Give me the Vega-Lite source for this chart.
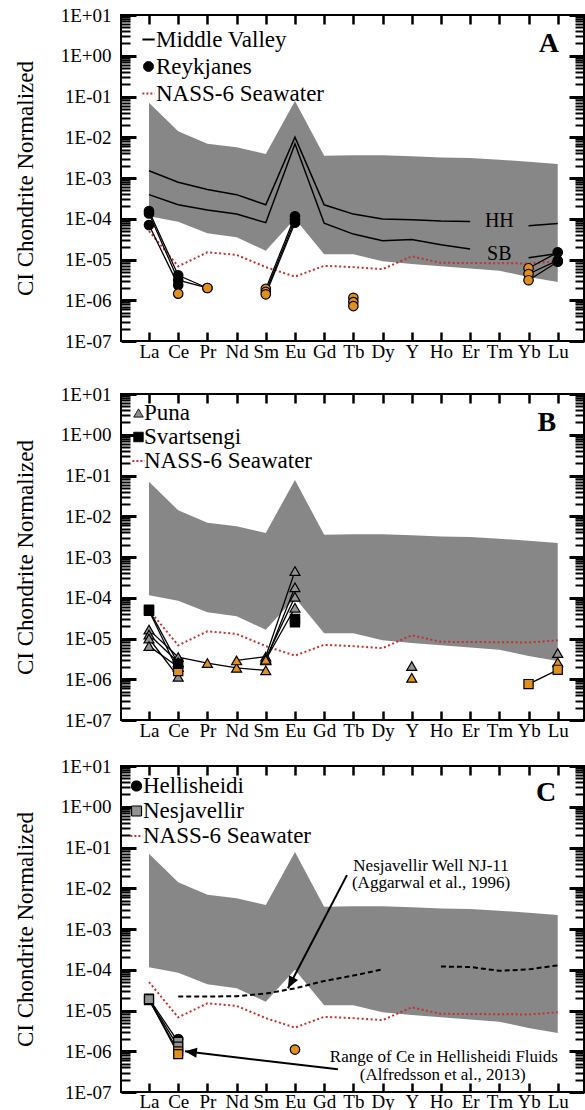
{
"$schema": "https://vega.github.io/schema/vega-lite/v6.json",
"padding": {"left": 13, "top": 5, "right": 0, "bottom": 0},
"background": "white",
"config": {
 "view": {"stroke": "black", "strokeWidth": 2},
 "font": "Liberation Serif",
 "axis": {"domain": false, "grid": false, "tickColor": "black", "labelColor": "black", "labelFont": "Liberation Serif", "labelFontSize": 19, "labelOverlap": false, "labelFlush": false, "titleFont": "Liberation Serif", "titleFontSize": 23, "titleFontWeight": "normal", "titleColor": "black"},
 "legend": {"labelFont": "Liberation Serif", "labelFontSize": 23, "labelColor": "black", "padding": 0, "symbolSize": 150, "labelLimit": 400}
},
"datasets": {
 "band": [
  {"el":"La","n":1,"v":0.07,"lo":1.15e-4},{"el":"Ce","n":2,"v":0.014,"lo":8.5e-5},{"el":"Pr","n":3,"v":0.0069,"lo":4.4e-5},{"el":"Nd","n":4,"v":0.0057,"lo":3.5e-5},{"el":"Sm","n":5,"v":0.0039,"lo":1.65e-5},{"el":"Eu","n":6,"v":0.078,"lo":1.0e-4},{"el":"Gd","n":7,"v":0.0035,"lo":1.35e-5},{"el":"Tb","n":8,"v":0.0036,"lo":1.35e-5},{"el":"Dy","n":9,"v":0.0036,"lo":9.0e-6},{"el":"Y","n":10,"v":0.0034,"lo":7.8e-6},{"el":"Ho","n":11,"v":0.0032,"lo":6.8e-6},{"el":"Er","n":12,"v":0.0031,"lo":6.0e-6},{"el":"Tm","n":13,"v":0.0028,"lo":5.3e-6},{"el":"Yb","n":14,"v":0.0025,"lo":3.7e-6},{"el":"Lu","n":15,"v":0.0022,"lo":2.8e-6}
 ],
 "nass": [
  {"src":"NASS-6 Seawater","n":1,"v":5.0e-5},{"src":"NASS-6 Seawater","n":2,"v":6.8e-6},{"src":"NASS-6 Seawater","n":3,"v":1.5e-5},{"src":"NASS-6 Seawater","n":4,"v":1.3e-5},{"src":"NASS-6 Seawater","n":5,"v":6.5e-6},{"src":"NASS-6 Seawater","n":6,"v":3.8e-6},{"src":"NASS-6 Seawater","n":7,"v":7.0e-6},{"src":"NASS-6 Seawater","n":8,"v":6.5e-6},{"src":"NASS-6 Seawater","n":9,"v":5.8e-6},{"src":"NASS-6 Seawater","n":10,"v":1.2e-5},{"src":"NASS-6 Seawater","n":11,"v":8.3e-6},{"src":"NASS-6 Seawater","n":12,"v":8.2e-6},{"src":"NASS-6 Seawater","n":13,"v":8.1e-6},{"src":"NASS-6 Seawater","n":14,"v":8.0e-6},{"src":"NASS-6 Seawater","n":15,"v":9.0e-6}
 ],
 "mv": [
  {"seg":"HH1","n":1,"v":1.5e-3},{"seg":"HH1","n":2,"v":7.9e-4},{"seg":"HH1","n":3,"v":5.2e-4},{"seg":"HH1","n":4,"v":3.9e-4},{"seg":"HH1","n":5,"v":2.2e-4},{"seg":"HH1","n":6,"v":1.0e-2},{"seg":"HH1","n":7,"v":2.2e-4},{"seg":"HH1","n":8,"v":1.3e-4},{"seg":"HH1","n":9,"v":9.8e-5},{"seg":"HH1","n":10,"v":9.5e-5},{"seg":"HH1","n":11,"v":8.8e-5},{"seg":"HH1","n":12,"v":8.6e-5},
  {"seg":"HH2","n":14,"v":6.7e-5},{"seg":"HH2","n":15,"v":7.6e-5},
  {"seg":"SB1","n":1,"v":3.9e-4},{"seg":"SB1","n":2,"v":2.2e-4},{"seg":"SB1","n":3,"v":1.65e-4},{"seg":"SB1","n":4,"v":1.3e-4},{"seg":"SB1","n":5,"v":8.0e-5},{"seg":"SB1","n":6,"v":6.9e-3},{"seg":"SB1","n":7,"v":7.8e-5},{"seg":"SB1","n":8,"v":4.2e-5},{"seg":"SB1","n":9,"v":2.9e-5},{"seg":"SB1","n":10,"v":3.1e-5},{"seg":"SB1","n":11,"v":2.3e-5},{"seg":"SB1","n":12,"v":1.8e-5},
  {"seg":"SB2","n":14,"v":1.1e-5},{"seg":"SB2","n":15,"v":1.4e-5}
 ],
 "mvlab": [{"t":"HH","n":13,"v":6.4e-5},{"t":"SB","n":13,"v":9.7e-6}],
 "letters": [{"p":"A","t":"A","n":14.7,"v":1.25},{"p":"B","t":"B","n":14.63,"v":1.25},{"p":"C","t":"C","n":14.6,"v":1.38}],
 "reyk": [
  {"s":"R1","seg":"R1a","n":1,"v":1.55e-4,"q":"d"},{"s":"R1","seg":"R1a","n":2,"v":4.1e-6,"q":"d"},{"s":"R1","seg":"R1a","n":3,"v":2.0e-6,"q":"o"},{"s":"R1","seg":"R1b","n":5,"v":1.9e-6,"q":"o"},{"s":"R1","seg":"R1b","n":6,"v":1.15e-4,"q":"d"},{"s":"R1","n":8,"v":1.15e-6,"q":"o"},{"s":"R1","seg":"R1c","n":14,"v":6.1e-6,"q":"o"},{"s":"R1","seg":"R1c","n":15,"v":1.5e-5,"q":"d"},
  {"s":"R2","seg":"R2a","n":1,"v":1.35e-4,"q":"d"},{"s":"R2","seg":"R2a","n":2,"v":3.1e-6,"q":"d"},{"s":"R2","seg":"R2a","n":3,"v":2.0e-6,"q":"o"},{"s":"R2","seg":"R2b","n":5,"v":1.6e-6,"q":"o"},{"s":"R2","seg":"R2b","n":6,"v":9.5e-5,"q":"d"},{"s":"R2","n":8,"v":9.0e-7,"q":"o"},{"s":"R2","seg":"R2c","n":14,"v":4.4e-6,"q":"o"},{"s":"R2","seg":"R2c","n":15,"v":9.5e-6,"q":"d"},
  {"s":"R3","seg":"R3a","n":1,"v":7.0e-5,"q":"d"},{"s":"R3","seg":"R3a","n":2,"v":2.35e-6,"q":"d"},{"s":"R3","seg":"R3b","n":5,"v":1.4e-6,"q":"o"},{"s":"R3","seg":"R3b","n":6,"v":8.0e-5,"q":"d"},{"s":"R3","n":8,"v":7.2e-7,"q":"o"},{"s":"R3","seg":"R3c","n":14,"v":3.1e-6,"q":"o"},{"s":"R3","seg":"R3c","n":15,"v":8.8e-6,"q":"d"},
  {"s":"R4","n":2,"v":1.45e-6,"q":"o"}
 ],
 "puna": [
  {"s":"P1","seg":"P1a","n":1,"v":1.65e-5,"q":"g"},{"s":"P1","seg":"P1a","n":2,"v":3.5e-6,"q":"g"},{"s":"P1","seg":"P1a","n":3,"v":2.5e-6,"q":"o"},{"s":"P1","seg":"P1a","n":4,"v":1.9e-6,"q":"o"},{"s":"P1","seg":"P1a","n":5,"v":1.65e-6,"q":"o"},{"s":"P1","n":10,"v":2.1e-6,"q":"g"},{"s":"P1","n":15,"v":4.4e-6,"q":"g"},
  {"s":"P2","seg":"P2a","n":1,"v":1.25e-5,"q":"g"},{"s":"P2","seg":"P2a","n":2,"v":2.6e-6,"q":"g"},{"s":"P2","seg":"P2b","n":4,"v":2.9e-6,"q":"o"},{"s":"P2","seg":"P2b","n":5,"v":3.6e-6,"q":"g"},{"s":"P2","seg":"P2b","n":6,"v":4.5e-4,"q":"g"},
  {"s":"P3","seg":"P3a","n":1,"v":1.0e-5,"q":"g"},{"s":"P3","seg":"P3a","n":2,"v":1.15e-6,"q":"g"},{"s":"P3","seg":"P3b","n":5,"v":2.9e-6,"q":"o"},{"s":"P3","seg":"P3b","n":6,"v":1.8e-4,"q":"g"},{"s":"P3","n":10,"v":1.08e-6,"q":"o"},{"s":"P3","n":15,"v":2.6e-6,"q":"o"},
  {"s":"P4","seg":"P4a","n":1,"v":6.5e-6,"q":"g"},{"s":"P4","seg":"P4a","n":2,"v":2.0e-6,"q":"g"},{"s":"P4","seg":"P4b","n":5,"v":3.2e-6,"q":"g"},{"s":"P4","seg":"P4b","n":6,"v":1.05e-4,"q":"g"},
  {"s":"P5","seg":"P5b","n":5,"v":3.0e-6,"q":"o"},{"s":"P5","seg":"P5b","n":6,"v":5.7e-5,"q":"g"}
 ],
 "svart": [
  {"s":"S2","seg":"S2a","n":1,"v":4.8e-5,"q":"d"},{"s":"S2","seg":"S2a","n":2,"v":1.6e-6,"q":"o"},{"s":"S2","n":6,"v":2.5e-5,"q":"d"},
  {"s":"S1","seg":"S1a","n":1,"v":5.1e-5,"q":"d"},{"s":"S1","seg":"S1a","n":2,"v":2.4e-6,"q":"d"},{"s":"S1","n":6,"v":3.0e-5,"q":"d"},{"s":"S1","seg":"S1c","n":14,"v":7.6e-7,"q":"o"},{"s":"S1","seg":"S1c","n":15,"v":1.7e-6,"q":"o"}
 ],
 "hell": [{"s":"H1","n":2,"v":2.0e-6,"q":"d"},{"s":"H1","n":6,"v":1.1e-6,"q":"o"}],
 "nes": [
  {"s":"N1","seg":"N1a","n":1,"v":1.95e-5,"q":"g"},{"s":"N1","seg":"N1a","n":2,"v":1.7e-6,"q":"g"},
  {"s":"N2","seg":"N2a","n":1,"v":1.85e-5,"q":"g"},{"s":"N2","seg":"N2a","n":2,"v":1.3e-6,"q":"g"},
  {"s":"N3","seg":"N3a","n":1,"v":1.8e-5,"q":"g"},{"s":"N3","seg":"N3a","n":2,"v":1.0e-6,"q":"o"},
  {"s":"N4","seg":"N4a","n":1,"v":1.9e-5,"q":"g"},{"s":"N4","seg":"N4a","n":2,"v":8.5e-7,"q":"o"}
 ],
 "nj": [
  {"seg":"a","n":2,"v":2.2e-5},{"seg":"a","n":3,"v":2.2e-5},{"seg":"a","n":4,"v":2.25e-5},{"seg":"a","n":5,"v":2.6e-5},{"seg":"a","n":6,"v":3.5e-5},{"seg":"a","n":7,"v":5.3e-5},{"seg":"a","n":8,"v":7.2e-5},{"seg":"a","n":9,"v":1.02e-4},
  {"seg":"b","n":11,"v":1.2e-4},{"seg":"b","n":12,"v":1.17e-4},{"seg":"b","n":13,"v":9.4e-5},{"seg":"b","n":14,"v":1.02e-4},{"seg":"b","n":15,"v":1.28e-4}
 ],
 "notes": [
  {"t":"Nesjavellir Well NJ-11","n":10.66,"v":2.65e-2},
  {"t":"(Aggarwal et al., 1996)","n":10.66,"v":1.01e-2},
  {"t":"Range of Ce in Hellisheidi Fluids","n":11.1,"v":5.3e-7},
  {"t":"(Alfredsson et al., 2013)","n":11.06,"v":2.0e-7}
 ],
 "arrows": [
  {"a":"1","n":7.78,"v":2.1e-2,"n2":5.76,"v2":3.5e-5},
  {"a":"2","n":7.47,"v":3.6e-7,"n2":2.23,"v2":1.0e-6}
 ]
},
"spacing": 22,
"resolve": {"scale": {"color": "independent", "x": "independent", "y": "independent"}, "legend": {"color": "independent"}},
"vconcat": [
 {
  "width": 463, "height": 326,
  "encoding": {
   "x": {"field": "n", "type": "quantitative", "scale": {"domain": [0.041, 15.9], "nice": false, "zero": false}, "axis": null},
   "y": {"field": "v", "type": "quantitative", "scale": {"type": "log", "domain": [1e-7, 10], "nice": false}, "axis": null}
  },
  "resolve": {"axis": {"x": "independent", "y": "independent"}},
  "layer": [
   {"data": {"name": "band"}, "mark": {"type": "area", "color": "#878787", "opacity": 1},
    "encoding": {
     "x": {"field": "n", "type": "quantitative", "scale": {"domain": [0.041, 15.9], "nice": false, "zero": false},
      "axis": {"orient": "bottom", "values": [1,2,3,4,5,6,7,8,9,10,11,12,13,14,15], "labelExpr": "['La','Ce','Pr','Nd','Sm','Eu','Gd','Tb','Dy','Y','Ho','Er','Tm','Yb','Lu'][round(datum.value)-1]", "tickSize": -9, "tickWidth": 2.5, "labelPadding": 10, "title": null, "labelFont": "Liberation Serif", "labelFontSize": 19}},
     "y": {"field": "v", "type": "quantitative", "scale": {"type": "log", "domain": [1e-7, 10], "nice": false},
      "axis": {"orient": "left", "values": [1e-7,2e-7,3e-7,4e-7,5e-7,6e-7,7e-7,8e-7,9e-7,1e-6,2e-6,3e-6,4e-6,5e-6,6e-6,7e-6,8e-6,9e-6,1e-5,2e-5,3e-5,4e-5,5e-5,6e-5,7e-5,8e-5,9e-5,1e-4,2e-4,3e-4,4e-4,5e-4,6e-4,7e-4,8e-4,9e-4,1e-3,2e-3,3e-3,4e-3,5e-3,6e-3,7e-3,8e-3,9e-3,0.01,0.02,0.03,0.04,0.05,0.06,0.07,0.08,0.09,0.1,0.2,0.3,0.4,0.5,0.6,0.7,0.8,0.9,1,2,3,4,5,6,7,8,9,10],
       "labelExpr": "abs(log(datum.value)/LN10 - round(log(datum.value)/LN10)) < 0.01 ? '1E' + (datum.value < 1 ? '-' : '+') + '0' + abs(round(log(datum.value)/LN10)) : ''",
       "tickSize": {"condition": {"test": "abs(log(datum.value)/LN10 - round(log(datum.value)/LN10)) < 0.01", "value": -15}, "value": -9},
       "tickWidth": {"condition": {"test": "abs(log(datum.value)/LN10 - round(log(datum.value)/LN10)) < 0.01", "value": 3}, "value": 2},
       "labelPadding": 25, "title": "CI Chondrite Normalized", "titlePadding": 23, "labelFont": "Liberation Serif", "labelFontSize": 19, "titleFont": "Liberation Serif", "titleFontSize": 23, "titleFontWeight": "normal"}},
     "y2": {"field": "lo"}
    }},
   {"data": {"name": "nass"}, "mark": {"type": "line", "strokeDash": [2, 2.5], "strokeWidth": 2},
    "encoding": {
     "x": {"field": "n", "type": "quantitative", "scale": {"domain": [0.041, 15.9], "nice": false, "zero": false},
      "axis": {"orient": "top", "values": [1,2,3,4,5,6,7,8,9,10,11,12,13,14,15], "labels": false, "tickSize": -9, "tickWidth": 2.5, "title": null}},
     "y": {"field": "v", "type": "quantitative", "scale": {"type": "log", "domain": [1e-7, 10], "nice": false},
      "axis": {"orient": "right", "values": [1e-7,2e-7,3e-7,4e-7,5e-7,6e-7,7e-7,8e-7,9e-7,1e-6,2e-6,3e-6,4e-6,5e-6,6e-6,7e-6,8e-6,9e-6,1e-5,2e-5,3e-5,4e-5,5e-5,6e-5,7e-5,8e-5,9e-5,1e-4,2e-4,3e-4,4e-4,5e-4,6e-4,7e-4,8e-4,9e-4,1e-3,2e-3,3e-3,4e-3,5e-3,6e-3,7e-3,8e-3,9e-3,0.01,0.02,0.03,0.04,0.05,0.06,0.07,0.08,0.09,0.1,0.2,0.3,0.4,0.5,0.6,0.7,0.8,0.9,1,2,3,4,5,6,7,8,9,10],
       "labels": false,
       "tickSize": {"condition": {"test": "abs(log(datum.value)/LN10 - round(log(datum.value)/LN10)) < 0.01", "value": -15}, "value": -9},
       "tickWidth": {"condition": {"test": "abs(log(datum.value)/LN10 - round(log(datum.value)/LN10)) < 0.01", "value": 3}, "value": 2},
       "title": null}},
     "color": {"field": "src", "type": "nominal", "scale": {"domain": ["Middle Valley", "Reykjanes", "NASS-6 Seawater"], "range": ["black", "black", "#C53030"]},
      "legend": {"orient": "none", "legendX": 16, "legendY": 13, "direction": "vertical", "title": null, "rowPadding": 3, "labelOffset": -4, "labelFont": "Liberation Serif", "labelFontSize": 23,
       "encode": {"labels": {"update": {"font": {"value": "Liberation Serif"}}}, "symbols": {"update": {
        "shape": {"signal": "datum.value === 'Reykjanes' ? 'circle' : 'stroke'"},
        "size": {"signal": "datum.value === 'Reykjanes' ? 100 : 150"},
        "fill": {"signal": "datum.value === 'Reykjanes' ? 'black' : 'transparent'"},
        "stroke": {"signal": "datum.value === 'NASS-6 Seawater' ? '#C53030' : 'black'"},
        "strokeWidth": {"signal": "datum.value === 'Reykjanes' ? 1 : 2"},
        "strokeDash": {"signal": "datum.value === 'NASS-6 Seawater' ? [2,2] : [1,0]"},
        "opacity": {"value": 1}}}}}}
    }},
   {"data": {"name": "mv"}, "mark": {"type": "line", "color": "black", "strokeWidth": 1.5}, "encoding": {"detail": {"field": "seg"}}},
   {"data": {"name": "reyk"}, "transform": [{"filter": "datum.seg"}], "mark": {"type": "line", "color": "black", "strokeWidth": 1.3}, "encoding": {"detail": {"field": "seg"}}},
   {"data": {"name": "reyk"}, "mark": {"type": "point", "shape": "circle", "filled": true, "size": 90, "stroke": "black", "strokeWidth": 1.2, "opacity": 1},
    "encoding": {"fill": {"condition": {"test": "datum.q === 'o'", "value": "#E0901F"}, "value": "black"}}},
   {"data": {"name": "mvlab"}, "mark": {"type": "text", "font": "Liberation Serif", "fontSize": 20, "baseline": "alphabetic", "align": "center", "color": "black"}, "encoding": {"text": {"field": "t"}}},
   {"data": {"name": "letters"}, "transform": [{"filter": "datum.p === 'A'"}], "mark": {"type": "text", "font": "Liberation Serif", "fontSize": 28, "fontWeight": "bold", "baseline": "alphabetic", "align": "center", "color": "black"}, "encoding": {"text": {"field": "t"}}}
  ]
 },
 {
  "spacing": 15,
  "resolve": {"scale": {"color": "independent", "x": "independent", "y": "independent"}, "legend": {"color": "independent"}},
  "vconcat": [
   {
    "width": 463, "height": 326,
    "encoding": {
     "x": {"field": "n", "type": "quantitative", "scale": {"domain": [0.041, 15.9], "nice": false, "zero": false}, "axis": null},
     "y": {"field": "v", "type": "quantitative", "scale": {"type": "log", "domain": [1e-7, 10], "nice": false}, "axis": null}
    },
    "resolve": {"axis": {"x": "independent", "y": "independent"}},
    "layer": [
     {"data": {"name": "band"}, "mark": {"type": "area", "color": "#878787", "opacity": 1},
      "encoding": {
       "x": {"field": "n", "type": "quantitative", "scale": {"domain": [0.041, 15.9], "nice": false, "zero": false},
        "axis": {"orient": "bottom", "values": [1,2,3,4,5,6,7,8,9,10,11,12,13,14,15], "labelExpr": "['La','Ce','Pr','Nd','Sm','Eu','Gd','Tb','Dy','Y','Ho','Er','Tm','Yb','Lu'][round(datum.value)-1]", "tickSize": -9, "tickWidth": 2.5, "labelPadding": 10, "title": null, "labelFont": "Liberation Serif", "labelFontSize": 19}},
       "y": {"field": "v", "type": "quantitative", "scale": {"type": "log", "domain": [1e-7, 10], "nice": false},
        "axis": {"orient": "left", "values": [1e-7,2e-7,3e-7,4e-7,5e-7,6e-7,7e-7,8e-7,9e-7,1e-6,2e-6,3e-6,4e-6,5e-6,6e-6,7e-6,8e-6,9e-6,1e-5,2e-5,3e-5,4e-5,5e-5,6e-5,7e-5,8e-5,9e-5,1e-4,2e-4,3e-4,4e-4,5e-4,6e-4,7e-4,8e-4,9e-4,1e-3,2e-3,3e-3,4e-3,5e-3,6e-3,7e-3,8e-3,9e-3,0.01,0.02,0.03,0.04,0.05,0.06,0.07,0.08,0.09,0.1,0.2,0.3,0.4,0.5,0.6,0.7,0.8,0.9,1,2,3,4,5,6,7,8,9,10],
         "labelExpr": "abs(log(datum.value)/LN10 - round(log(datum.value)/LN10)) < 0.01 ? '1E' + (datum.value < 1 ? '-' : '+') + '0' + abs(round(log(datum.value)/LN10)) : ''",
         "tickSize": {"condition": {"test": "abs(log(datum.value)/LN10 - round(log(datum.value)/LN10)) < 0.01", "value": -15}, "value": -9},
         "tickWidth": {"condition": {"test": "abs(log(datum.value)/LN10 - round(log(datum.value)/LN10)) < 0.01", "value": 3}, "value": 2},
         "labelPadding": 25, "title": "CI Chondrite Normalized", "titlePadding": 23, "labelFont": "Liberation Serif", "labelFontSize": 19, "titleFont": "Liberation Serif", "titleFontSize": 23, "titleFontWeight": "normal"}},
       "y2": {"field": "lo"}
      }},
     {"data": {"name": "nass"}, "mark": {"type": "line", "strokeDash": [2, 2.5], "strokeWidth": 2},
      "encoding": {
       "x": {"field": "n", "type": "quantitative", "scale": {"domain": [0.041, 15.9], "nice": false, "zero": false},
        "axis": {"orient": "top", "values": [1,2,3,4,5,6,7,8,9,10,11,12,13,14,15], "labels": false, "tickSize": -9, "tickWidth": 2.5, "title": null}},
       "y": {"field": "v", "type": "quantitative", "scale": {"type": "log", "domain": [1e-7, 10], "nice": false},
        "axis": {"orient": "right", "values": [1e-7,2e-7,3e-7,4e-7,5e-7,6e-7,7e-7,8e-7,9e-7,1e-6,2e-6,3e-6,4e-6,5e-6,6e-6,7e-6,8e-6,9e-6,1e-5,2e-5,3e-5,4e-5,5e-5,6e-5,7e-5,8e-5,9e-5,1e-4,2e-4,3e-4,4e-4,5e-4,6e-4,7e-4,8e-4,9e-4,1e-3,2e-3,3e-3,4e-3,5e-3,6e-3,7e-3,8e-3,9e-3,0.01,0.02,0.03,0.04,0.05,0.06,0.07,0.08,0.09,0.1,0.2,0.3,0.4,0.5,0.6,0.7,0.8,0.9,1,2,3,4,5,6,7,8,9,10],
         "labels": false,
         "tickSize": {"condition": {"test": "abs(log(datum.value)/LN10 - round(log(datum.value)/LN10)) < 0.01", "value": -15}, "value": -9},
         "tickWidth": {"condition": {"test": "abs(log(datum.value)/LN10 - round(log(datum.value)/LN10)) < 0.01", "value": 3}, "value": 2},
         "title": null}},
       "color": {"field": "src", "type": "nominal", "scale": {"domain": ["Puna", "Svartsengi", "NASS-6 Seawater"], "range": ["black", "black", "#C53030"]},
        "legend": {"orient": "none", "legendX": 6, "legendY": 7.5, "direction": "vertical", "title": null, "rowPadding": 0, "labelOffset": -6, "labelFont": "Liberation Serif", "labelFontSize": 23,
         "encode": {"labels": {"update": {"font": {"value": "Liberation Serif"}}}, "symbols": {"update": {
          "shape": {"signal": "datum.value === 'Puna' ? 'triangle-up' : datum.value === 'Svartsengi' ? 'square' : 'stroke'"},
          "size": {"signal": "datum.value === 'NASS-6 Seawater' ? 150 : 90"},
          "fill": {"signal": "datum.value === 'Puna' ? '#929292' : datum.value === 'Svartsengi' ? 'black' : 'transparent'"},
          "stroke": {"signal": "datum.value === 'NASS-6 Seawater' ? '#C53030' : 'black'"},
          "strokeWidth": {"signal": "datum.value === 'NASS-6 Seawater' ? 2 : 1"},
          "strokeDash": {"signal": "datum.value === 'NASS-6 Seawater' ? [2,2] : [1,0]"},
          "opacity": {"value": 1}}}}}}
      }},
     {"data": {"name": "puna"}, "transform": [{"filter": "datum.seg"}], "mark": {"type": "line", "color": "black", "strokeWidth": 1.3}, "encoding": {"detail": {"field": "seg"}}},
     {"data": {"name": "svart"}, "transform": [{"filter": "datum.seg"}], "mark": {"type": "line", "color": "black", "strokeWidth": 1.3}, "encoding": {"detail": {"field": "seg"}}},
     {"data": {"name": "puna"}, "mark": {"type": "point", "shape": "triangle-up", "filled": true, "size": 100, "stroke": "black", "strokeWidth": 1.2, "opacity": 1},
      "encoding": {"fill": {"condition": {"test": "datum.q === 'o'", "value": "#E0901F"}, "value": "#929292"}}},
     {"data": {"name": "svart"}, "mark": {"type": "point", "shape": "square", "filled": true, "size": 85, "stroke": "black", "strokeWidth": 1.2, "opacity": 1},
      "encoding": {"fill": {"condition": {"test": "datum.q === 'o'", "value": "#E0901F"}, "value": "black"}}},
     {"data": {"name": "letters"}, "transform": [{"filter": "datum.p === 'B'"}], "mark": {"type": "text", "font": "Liberation Serif", "fontSize": 28, "fontWeight": "bold", "baseline": "alphabetic", "align": "center", "color": "black"}, "encoding": {"text": {"field": "t"}}}
    ]
   },
   {
    "width": 463, "height": 326,
    "encoding": {
     "x": {"field": "n", "type": "quantitative", "scale": {"domain": [0.041, 15.9], "nice": false, "zero": false}, "axis": null},
     "y": {"field": "v", "type": "quantitative", "scale": {"type": "log", "domain": [1e-7, 10], "nice": false}, "axis": null}
    },
    "resolve": {"axis": {"x": "independent", "y": "independent"}},
    "layer": [
     {"data": {"name": "band"}, "mark": {"type": "area", "color": "#878787", "opacity": 1},
      "encoding": {
       "x": {"field": "n", "type": "quantitative", "scale": {"domain": [0.041, 15.9], "nice": false, "zero": false},
        "axis": {"orient": "bottom", "values": [1,2,3,4,5,6,7,8,9,10,11,12,13,14,15], "labelExpr": "['La','Ce','Pr','Nd','Sm','Eu','Gd','Tb','Dy','Y','Ho','Er','Tm','Yb','Lu'][round(datum.value)-1]", "tickSize": -9, "tickWidth": 2.5, "labelPadding": 9, "title": null, "labelFont": "Liberation Serif", "labelFontSize": 19}},
       "y": {"field": "v", "type": "quantitative", "scale": {"type": "log", "domain": [1e-7, 10], "nice": false},
        "axis": {"orient": "left", "values": [1e-7,2e-7,3e-7,4e-7,5e-7,6e-7,7e-7,8e-7,9e-7,1e-6,2e-6,3e-6,4e-6,5e-6,6e-6,7e-6,8e-6,9e-6,1e-5,2e-5,3e-5,4e-5,5e-5,6e-5,7e-5,8e-5,9e-5,1e-4,2e-4,3e-4,4e-4,5e-4,6e-4,7e-4,8e-4,9e-4,1e-3,2e-3,3e-3,4e-3,5e-3,6e-3,7e-3,8e-3,9e-3,0.01,0.02,0.03,0.04,0.05,0.06,0.07,0.08,0.09,0.1,0.2,0.3,0.4,0.5,0.6,0.7,0.8,0.9,1,2,3,4,5,6,7,8,9,10],
         "labelExpr": "abs(log(datum.value)/LN10 - round(log(datum.value)/LN10)) < 0.01 ? '1E' + (datum.value < 1 ? '-' : '+') + '0' + abs(round(log(datum.value)/LN10)) : ''",
         "tickSize": {"condition": {"test": "abs(log(datum.value)/LN10 - round(log(datum.value)/LN10)) < 0.01", "value": -15}, "value": -9},
         "tickWidth": {"condition": {"test": "abs(log(datum.value)/LN10 - round(log(datum.value)/LN10)) < 0.01", "value": 3}, "value": 2},
         "labelPadding": 25, "title": "CI Chondrite Normalized", "titlePadding": 23, "labelFont": "Liberation Serif", "labelFontSize": 19, "titleFont": "Liberation Serif", "titleFontSize": 23, "titleFontWeight": "normal"}},
       "y2": {"field": "lo"}
      }},
     {"data": {"name": "nass"}, "mark": {"type": "line", "strokeDash": [2, 2.5], "strokeWidth": 2},
      "encoding": {
       "x": {"field": "n", "type": "quantitative", "scale": {"domain": [0.041, 15.9], "nice": false, "zero": false},
        "axis": {"orient": "top", "values": [1,2,3,4,5,6,7,8,9,10,11,12,13,14,15], "labels": false, "tickSize": -9, "tickWidth": 2.5, "title": null}},
       "y": {"field": "v", "type": "quantitative", "scale": {"type": "log", "domain": [1e-7, 10], "nice": false},
        "axis": {"orient": "right", "values": [1e-7,2e-7,3e-7,4e-7,5e-7,6e-7,7e-7,8e-7,9e-7,1e-6,2e-6,3e-6,4e-6,5e-6,6e-6,7e-6,8e-6,9e-6,1e-5,2e-5,3e-5,4e-5,5e-5,6e-5,7e-5,8e-5,9e-5,1e-4,2e-4,3e-4,4e-4,5e-4,6e-4,7e-4,8e-4,9e-4,1e-3,2e-3,3e-3,4e-3,5e-3,6e-3,7e-3,8e-3,9e-3,0.01,0.02,0.03,0.04,0.05,0.06,0.07,0.08,0.09,0.1,0.2,0.3,0.4,0.5,0.6,0.7,0.8,0.9,1,2,3,4,5,6,7,8,9,10],
         "labels": false,
         "tickSize": {"condition": {"test": "abs(log(datum.value)/LN10 - round(log(datum.value)/LN10)) < 0.01", "value": -15}, "value": -9},
         "tickWidth": {"condition": {"test": "abs(log(datum.value)/LN10 - round(log(datum.value)/LN10)) < 0.01", "value": 3}, "value": 2},
         "title": null}},
       "color": {"field": "src", "type": "nominal", "scale": {"domain": ["Hellisheidi", "Nesjavellir", "NASS-6 Seawater"], "range": ["black", "black", "#C53030"]},
        "legend": {"orient": "none", "legendX": 4, "legendY": 8.5, "direction": "vertical", "title": null, "rowPadding": 1, "labelOffset": -5, "labelFont": "Liberation Serif", "labelFontSize": 23,
         "encode": {"labels": {"update": {"font": {"value": "Liberation Serif"}}}, "symbols": {"update": {
          "shape": {"signal": "datum.value === 'Hellisheidi' ? 'circle' : datum.value === 'Nesjavellir' ? 'square' : 'stroke'"},
          "size": {"signal": "datum.value === 'NASS-6 Seawater' ? 150 : 100"},
          "fill": {"signal": "datum.value === 'Hellisheidi' ? 'black' : datum.value === 'Nesjavellir' ? '#929292' : 'transparent'"},
          "stroke": {"signal": "datum.value === 'NASS-6 Seawater' ? '#C53030' : 'black'"},
          "strokeWidth": {"signal": "datum.value === 'NASS-6 Seawater' ? 2 : 1.2"},
          "strokeDash": {"signal": "datum.value === 'NASS-6 Seawater' ? [2,2] : [1,0]"},
          "opacity": {"value": 1}}}}}}
      }},
     {"data": {"name": "nj"}, "mark": {"type": "line", "color": "black", "strokeWidth": 2, "strokeDash": [5, 3]}, "encoding": {"detail": {"field": "seg"}}},
     {"data": {"name": "nes"}, "transform": [{"filter": "datum.seg"}], "mark": {"type": "line", "color": "black", "strokeWidth": 1.3}, "encoding": {"detail": {"field": "seg"}}},
     {"data": {"name": "hell"}, "mark": {"type": "point", "shape": "circle", "filled": true, "size": 90, "stroke": "black", "strokeWidth": 1.2, "opacity": 1},
      "encoding": {"fill": {"condition": {"test": "datum.q === 'o'", "value": "#E0901F"}, "value": "black"}}},
     {"data": {"name": "nes"}, "mark": {"type": "point", "shape": "square", "filled": true, "size": 80, "stroke": "black", "strokeWidth": 1.2, "opacity": 1},
      "encoding": {"fill": {"condition": {"test": "datum.q === 'o'", "value": "#E0901F"}, "value": "#929292"}}},
     {"data": {"name": "arrows"}, "mark": {"type": "rule", "color": "black", "strokeWidth": 2}, "encoding": {"x2": {"field": "n2"}, "y2": {"field": "v2"}}},
     {"data": {"name": "arrows"}, "transform": [{"filter": "datum.a === '1'"}], "mark": {"type": "point", "shape": "M0,0L-0.42,1L0.42,1Z", "size": 576, "angle": 207.5, "filled": true, "color": "black", "opacity": 1, "strokeWidth": 0},
      "encoding": {"x": {"field": "n2", "type": "quantitative", "scale": {"domain": [0.041, 15.9], "nice": false, "zero": false}, "axis": null}, "y": {"field": "v2", "type": "quantitative", "scale": {"type": "log", "domain": [1e-7, 10], "nice": false}, "axis": null}}},
     {"data": {"name": "arrows"}, "transform": [{"filter": "datum.a === '2'"}], "mark": {"type": "point", "shape": "M0,0L-0.42,1L0.42,1Z", "size": 576, "angle": 276.7, "filled": true, "color": "black", "opacity": 1, "strokeWidth": 0},
      "encoding": {"x": {"field": "n2", "type": "quantitative", "scale": {"domain": [0.041, 15.9], "nice": false, "zero": false}, "axis": null}, "y": {"field": "v2", "type": "quantitative", "scale": {"type": "log", "domain": [1e-7, 10], "nice": false}, "axis": null}}},
     {"data": {"name": "notes"}, "mark": {"type": "text", "font": "Liberation Serif", "fontSize": 17, "baseline": "alphabetic", "align": "center", "color": "black"}, "encoding": {"text": {"field": "t"}}},
     {"data": {"name": "letters"}, "transform": [{"filter": "datum.p === 'C'"}], "mark": {"type": "text", "font": "Liberation Serif", "fontSize": 28, "fontWeight": "bold", "baseline": "alphabetic", "align": "center", "color": "black"}, "encoding": {"text": {"field": "t"}}}
    ]
   }
  ]
 }
]
}
